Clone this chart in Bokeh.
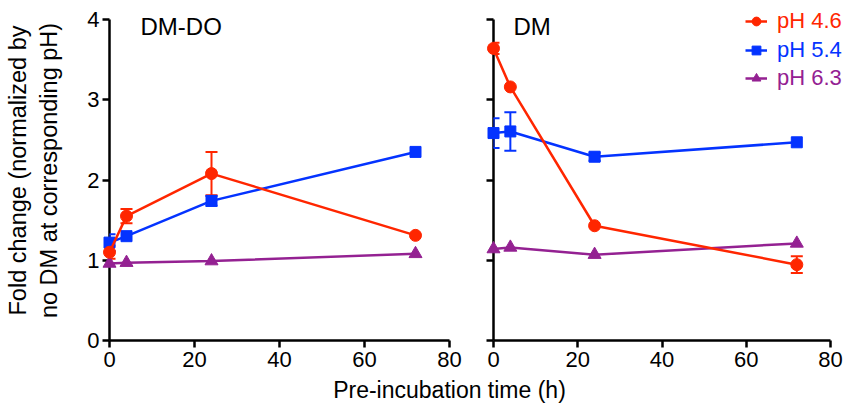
from bokeh.plotting import figure
from bokeh.models import (Range1d, Whisker, ColumnDataSource, Legend, LegendItem,
                          Label, TeeHead, CustomJSTickFormatter, FixedTicker)
from bokeh.layouts import row, column
from bokeh.embed import file_html
from bokeh.resources import INLINE

# ---------------- data ----------------
time_h = [0, 4, 24, 72]
x_ticks = [0, 20, 40, 60, 80]
y_ticks = [0, 1, 2, 3, 4]
series_labels = ["pH 4.6", "pH 5.4", "pH 6.3"]
panel_titles = ["DM-DO", "DM"]

# DM-DO panel
dmdo_ph46 = [1.10, 1.55, 2.08, 1.31]
dmdo_ph46_err = [0.08, 0.09, 0.27, 0.0]
dmdo_ph54 = [1.22, 1.30, 1.74, 2.35]
dmdo_ph54_err = [0.105, 0.0, 0.06, 0.0]
dmdo_ph63 = [0.96, 0.97, 0.99, 1.08]
dmdo_ph63_err = [0.0, 0.0, 0.0, 0.0]

# DM panel
dm_ph46 = [3.64, 3.16, 1.43, 0.945]
dm_ph46_err = [0.07, 0.0, 0.0, 0.105]
dm_ph54 = [2.585, 2.605, 2.29, 2.47]
dm_ph54_err = [0.185, 0.24, 0.05, 0.0]
dm_ph63 = [1.14, 1.16, 1.07, 1.21]
dm_ph63_err = [0.0, 0.0, 0.0, 0.0]

# ---------------- style ----------------
COLORS = ["#FF2600", "#0433FF", "#942192"]
MARKERS = ["circle", "square", "triangle"]
SIZES = [12, 11, 13]
FONT = "Liberation Sans"
TICK_FS = "22px"
LABEL_FS = "23px"
FRAME_H = 340
PX_PER_UNIT = (FRAME_H - 19) / 4.0
Y_TOP = 4 + 19 / PX_PER_UNIT    # frame extends above the axis top so annotations are not cut


def style_axes(p, show_y_labels):
    p.grid.visible = False
    p.outline_line_color = None
    for ax in (p.xaxis[0], p.yaxis[0]):
        ax.axis_line_width = 2.5
        ax.axis_line_color = "black"
        ax.major_tick_line_width = 2.5
        ax.major_tick_line_color = "black"
        ax.major_tick_in = 0
        ax.major_tick_out = 7
        ax.minor_tick_line_color = None
        ax.major_label_text_font = FONT
        ax.major_label_text_font_size = TICK_FS
        ax.major_label_text_color = "black"
        ax.major_label_standoff = 3
    p.xaxis[0].major_label_standoff = 4
    p.xaxis[0].ticker = FixedTicker(ticks=x_ticks)
    p.yaxis[0].ticker = FixedTicker(ticks=y_ticks)
    p.xaxis[0].bounds = (0, 80)
    p.yaxis[0].bounds = (0, 4)
    if not show_y_labels:
        p.yaxis[0].formatter = CustomJSTickFormatter(code="return ''")


def make_panel(title, vals, errs, border_left, border_right, fw, x_end, show_y_labels,
               title_x, title_y, with_legend):
    p = figure(frame_width=fw, frame_height=FRAME_H,
               x_range=Range1d(0, x_end), y_range=Range1d(0, Y_TOP),
               min_border_left=border_left, min_border_right=border_right,
               min_border_top=0, min_border_bottom=36,
               output_backend="svg", toolbar_location=None,
               background_fill_color="white", border_fill_color="white")
    style_axes(p, show_y_labels)

    legend_renderers = []
    for i in range(3):
        v, e = vals[i], errs[i]
        src = ColumnDataSource(dict(
            x=[t for t, ee in zip(time_h, e) if ee > 0],
            upper=[vv + ee for vv, ee in zip(v, e) if ee > 0],
            lower=[vv - ee for vv, ee in zip(v, e) if ee > 0],
        ))
        w = Whisker(base="x", upper="upper", lower="lower", source=src,
                    line_color=COLORS[i], line_width=2, level="annotation",
                    upper_head=TeeHead(size=12, line_color=COLORS[i], line_width=2),
                    lower_head=TeeHead(size=12, line_color=COLORS[i], line_width=2))
        p.add_layout(w)
    for i in reversed(range(3)):
        v = vals[i]
        lr = p.line(time_h, v, line_color=COLORS[i], line_width=2.5, level="overlay")
        sr = p.scatter(time_h, v, marker=MARKERS[i], size=SIZES[i],
                       fill_color=COLORS[i], line_color=COLORS[i], level="overlay")
        legend_renderers.append((i, lr, sr))

    p.add_layout(Label(x=title_x, y=title_y, text=title, text_font=FONT,
                       text_font_size="24px", text_color="black",
                       text_baseline="middle", text_align="left"))

    if with_legend:
        legend_bottoms = [305, 276, 248]
        for i, lr, sr in legend_renderers:
            leg = Legend(items=[LegendItem(label=series_labels[i], renderers=[lr, sr])],
                         location=(252, legend_bottoms[i]),
                         border_line_color=None, background_fill_alpha=0,
                         padding=0, margin=0, spacing=0,
                         glyph_width=22, glyph_height=28, label_height=28,
                         label_standoff=10, label_text_font=FONT,
                         label_text_font_size="22px", label_text_color=COLORS[i])
            p.add_layout(leg)
    return p


p1 = make_panel(panel_titles[0],
                [dmdo_ph46, dmdo_ph54, dmdo_ph63],
                [dmdo_ph46_err, dmdo_ph54_err, dmdo_ph63_err],
                border_left=109, border_right=22, fw=340, x_end=80, show_y_labels=True,
                title_x=7.29, title_y=3.919, with_legend=False)
p1.yaxis[0].axis_label = "Fold change (normalized by\nno DM at corresponding pH)"
p1.yaxis[0].axis_label_text_font = FONT
p1.yaxis[0].axis_label_text_font_size = "23.5px"
p1.yaxis[0].axis_label_text_font_style = "normal"
p1.yaxis[0].axis_label_text_color = "black"
p1.yaxis[0].axis_label_standoff = 22

p2 = make_panel(panel_titles[1],
                [dm_ph46, dm_ph54, dm_ph63],
                [dm_ph46_err, dm_ph54_err, dm_ph63_err],
                border_left=22, border_right=0, fw=350, x_end=80 + 13 / 4.2125,
                show_y_labels=False, title_x=4.75, title_y=3.907, with_legend=True)

p3 = figure(frame_width=843, frame_height=27, x_range=Range1d(0, 1), y_range=Range1d(0, 1),
            x_axis_location=None, y_axis_location=None, min_border=0,
            output_backend="svg", toolbar_location=None,
            background_fill_color="white", border_fill_color="white")
p3.grid.visible = False
p3.outline_line_color = None
p3.add_layout(Label(x=0.5326, y=0.5, text="Pre-incubation time (h)", text_font=FONT,
                    text_font_size=LABEL_FS, text_color="black",
                    text_align="center", text_baseline="middle"))

layout = column(row(p1, p2, spacing=0), p3, spacing=0)

with open("out.html", "w") as f:
    f.write(file_html(layout, INLINE))
